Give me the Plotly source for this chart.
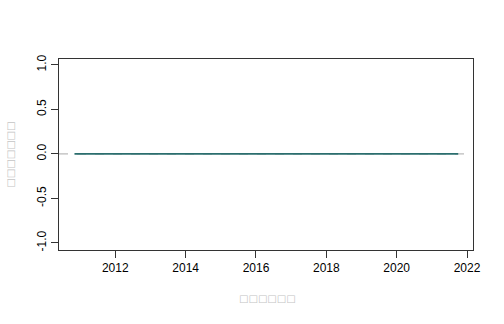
import plotly.graph_objects as go

# Data
years = [2010.84, 2011.75, 2012.75, 2013.75, 2014.75, 2015.75, 2016.75,
         2017.75, 2018.75, 2019.75, 2020.75, 2021.75]
values = [0.0, 0.0, 0.0, 0.0, 0.0, 0.0, 0.0, 0.0, 0.0, 0.0, 0.0, 0.0]
x_ticks = [2012, 2014, 2016, 2018, 2020, 2022]
y_ticks = [-1.0, -0.5, 0.0, 0.5, 1.0]
y_tick_text = ["-1.0", "-0.5", "0.0", "0.5", "1.0"]
x_title = "□□□□□□"
y_title = "□□□□□□□"

fig = go.Figure()
fig.add_trace(go.Scatter(x=years, y=values, mode="lines",
                         line=dict(color="#2b6e6e", width=1.6),
                         showlegend=False, hoverinfo="skip"))

fig.add_shape(type="line", xref="paper", yref="y", x0=0, x1=1, y0=0, y1=0,
              line=dict(color="#aaaaaa", width=1, dash="dash"), layer="below")

font = dict(family="Liberation Sans, Arial, sans-serif", size=12, color="#000000")

fig.update_layout(
    width=504, height=324,
    margin=dict(l=59, r=31, t=59, b=74),
    paper_bgcolor="white", plot_bgcolor="white",
    font=font,
    xaxis=dict(range=[2010.40, 2022.17], tickvals=x_ticks,
               ticks="outside", ticklen=7, tickcolor="#333333", tickwidth=1,
               showline=True, linecolor="#333333", linewidth=1, mirror=True,
               showgrid=False, zeroline=False, tickfont=font),
    yaxis=dict(range=[-1.08, 1.067], tickvals=y_ticks, ticktext=y_tick_text,
               tickangle=-90,
               ticks="outside", ticklen=7, tickcolor="#333333", tickwidth=1,
               showline=True, linecolor="#333333", linewidth=1, mirror=True,
               showgrid=False, zeroline=False, tickfont=font),
    annotations=[
        dict(text=x_title, xref="paper", yref="paper", x=0.504, y=-0.255,
             xanchor="center", yanchor="middle", showarrow=False,
             font=dict(family="DejaVu Sans", size=10, color="#c4c4c4")),
        dict(text=y_title, xref="paper", yref="paper", x=-0.118, y=0.5,
             xanchor="center", yanchor="middle", showarrow=False, textangle=-90,
             font=dict(family="DejaVu Sans", size=10, color="#c4c4c4")),
    ],
)

fig.write_html("out.html")
